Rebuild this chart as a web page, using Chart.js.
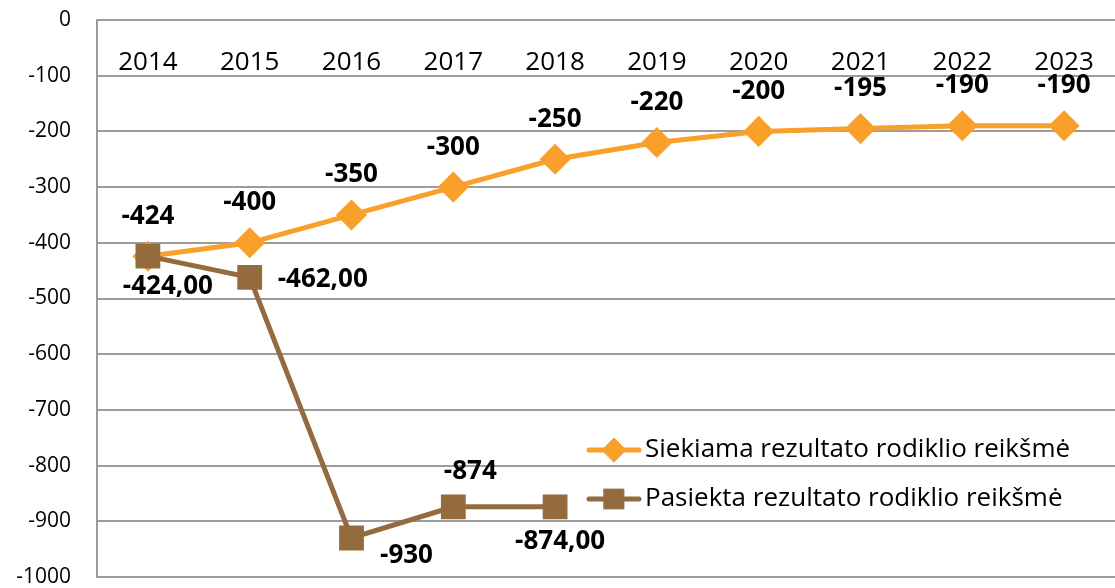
<!DOCTYPE html>
<html>
<head>
<meta charset="utf-8">
<script src="https://cdn.jsdelivr.net/npm/chart.js@4/dist/chart.umd.min.js"></script>
<style>
  html, body { margin: 0; padding: 0; background: #fff; }
  #wrap { position: relative; width: 1115px; height: 588px; }
</style>
</head>
<body>
<div id="wrap"><canvas id="chart"></canvas></div>
<script>
var years = ['2014', '2015', '2016', '2017', '2018', '2019', '2020', '2021', '2022', '2023'];
var targetValues = [-424, -400, -350, -300, -250, -220, -200, -195, -190, -190];
var actualValues = [-424, -462, -930, -874, -874, null, null, null, null, null];
var targetLabels = ['-424', '-400', '-350', '-300', '-250', '-220', '-200', '-195', '-190', '-190'];
var actualLabels = ['-424,00', '-462,00', '-930', '-874', '-874,00'];
var seriesNames = ['Siekiama rezultato rodiklio reikšmė', 'Pasiekta rezultato rodiklio reikšmė'];

var orange = '#F9A02A';
var brown = '#946A3F';
var gridGrey = '#9c9c9c';

// where each value label sits relative to its point
var targetLabelOffsets = targetValues.map(function () { return [0, -40]; });
var actualLabelOffsets = [[20, 30], [73, 2], [55, 18], [17, -35], [5, 35]];

var valueLabels = {
    id: 'valueLabels',
    afterDatasetsDraw: function (chart) {
        var ctx = chart.ctx;
        ctx.save();
        ctx.font = 'bold 26px "Open Sans"';
        ctx.fillStyle = '#000';
        ctx.textAlign = 'center';
        ctx.textBaseline = 'middle';
        var sets = [[targetLabels, targetLabelOffsets], [actualLabels, actualLabelOffsets]];
        sets.forEach(function (s, di) {
            var meta = chart.getDatasetMeta(di);
            s[0].forEach(function (txt, i) {
                var pt = meta.data[i];
                if (!pt || pt.skip) return;
                ctx.fillText(txt, pt.x + s[1][i][0], pt.y + s[1][i][1]);
            });
        });
        ctx.restore();
    }
};

// legend drawn inside the plot, lower right
var innerLegend = {
    id: 'innerLegend',
    afterDraw: function (chart) {
        var ctx = chart.ctx;
        var x0 = 589, rows = [450, 499];
        var colors = [orange, brown];
        var styles = ['rectRot', 'rect'];
        var radii = [12, 14];
        ctx.save();
        rows.forEach(function (y, i) {
            ctx.strokeStyle = colors[i];
            ctx.lineWidth = 5;
            ctx.lineCap = 'round';
            ctx.beginPath();
            ctx.moveTo(x0, y);
            ctx.lineTo(x0 + 50, y);
            ctx.stroke();
            ctx.fillStyle = colors[i];
            ctx.strokeStyle = colors[i];
            ctx.lineWidth = 1;
            Chart.helpers.drawPoint(ctx, { pointStyle: styles[i], radius: radii[i], rotation: 0, borderWidth: 1 }, x0 + 25, y);
            ctx.fillStyle = '#000';
            ctx.font = '26px "Open Sans"';
            ctx.textAlign = 'left';
            ctx.textBaseline = 'middle';
            ctx.fillText(seriesNames[i], x0 + 56, y);
        });
        ctx.restore();
    }
};

new Chart(document.getElementById('chart'), {
    type: 'line',
    data: {
        labels: years,
        datasets: [{
            label: seriesNames[0],
            data: targetValues,
            order: 2,
            borderColor: orange,
            backgroundColor: orange,
            borderWidth: 5,
            pointStyle: 'rectRot',
            pointRadius: 12,
            pointHoverRadius: 12,
            tension: 0,
            clip: false
        }, {
            label: seriesNames[1],
            data: actualValues,
            order: 1,
            borderColor: brown,
            backgroundColor: brown,
            borderWidth: 5,
            pointStyle: 'rect',
            pointRadius: 14,
            pointHoverRadius: 14,
            tension: 0,
            spanGaps: false,
            clip: false
        }]
    },
    options: {
        responsive: true,
        maintainAspectRatio: false,
        animation: false,
        layout: { autoPadding: false, padding: { top: 20, bottom: 11, left: 0, right: 0 } },
        plugins: {
            legend: { display: false },
            tooltip: { enabled: false }
        },
        scales: {
            x: {
                type: 'category',
                offset: true,
                position: { y: 0 },
                afterFit: function (scale) {
                    scale.height = 0;
                    scale.paddingLeft = 0;
                    scale.paddingRight = 0;
                },
                grid: { display: false },
                border: { display: false },
                ticks: {
                    color: '#000',
                    padding: 19,
                    maxRotation: 0,
                    font: { family: 'Open Sans', size: 26 }
                }
            },
            y: {
                min: -1000,
                max: 0,
                afterFit: function (scale) {
                    scale.width = 97;
                    scale.paddingTop = 0;
                    scale.paddingBottom = 0;
                },
                grid: { color: gridGrey, lineWidth: 2, drawTicks: false },
                border: { color: gridGrey, width: 2 },
                ticks: {
                    stepSize: 100,
                    color: '#000',
                    padding: 26,
                    font: { family: 'Open Sans', size: 21 },
                    callback: function (v) { return String(v); }
                }
            }
        }
    },
    plugins: [valueLabels, innerLegend]
});
</script>
</body>
</html>
